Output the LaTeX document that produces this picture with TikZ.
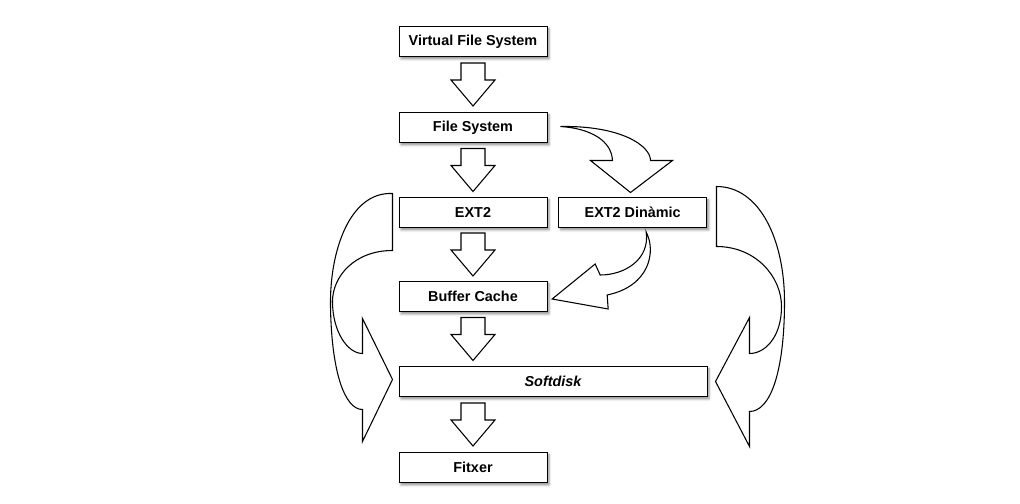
\documentclass[tikz,border=0pt]{standalone}
\usepackage{fontspec}
\setmainfont{Liberation Sans}
\usetikzlibrary{positioning,calc,shadows.blur}

\begin{document}
\begin{tikzpicture}[
    x=0.75pt, y=-0.75pt,
    box/.style={
        draw,
        line width=0.75pt,
        fill=white,
        minimum width=111pt,
        minimum height=22.5pt,
        inner sep=0pt,
        blur shadow={shadow xshift=1.5pt, shadow yshift=-1.8pt, shadow blur radius=1.8pt, shadow opacity=45},
        font=\fontsize{10.8}{12}\selectfont\bfseries
    },
    arrowbody/.style={draw, line width=0.8pt, fill=white, line join=miter},
    blockdown/.pic={
        \draw[arrowbody] (-12,-21.5) -- (-12,-4.5) -- (-22,-4.5) -- (0,21.5)
            -- (22,-4.5) -- (12,-4.5) -- (12,-21.5) -- cycle;
    }
]
\useasboundingbox (0,0) rectangle (1020,503);

\node[box] (vfs) at (473,41.5) {Virtual File System};
\node[box, below=41.25pt of vfs] (fs) {File System};
\node[box, below=40.5pt of fs] (ext2) {EXT2};
\node[box, right=8pt of ext2] (ext2d) {EXT2 Dinàmic};
\node[box, below=39.75pt of ext2] (buf) {Buffer Cache};
\node[box, minimum width=231pt, below=40.5pt of buf.south west, anchor=north west,
    font=\fontsize{10.8}{12}\selectfont\bfseries\itshape] (soft) {Softdisk};
\node[box, below=41.25pt of soft.south west, anchor=north west] (fit) {Fitxer};

% straight block arrows
\pic at ($(vfs.south)!.5!(fs.north)$) {blockdown};
\pic at ($(fs.south)!.5!(ext2.north)$) {blockdown};
\pic at ($(ext2.south)!.5!(buf.north)$) {blockdown};
\pic at ($(buf.south)!.5!(buf.south|-soft.north)$) {blockdown};
\pic at ($(fit.north)!.5!(fit.north|-soft.south)$) {blockdown};

% curved arrows
\draw[arrowbody, shift={(fs.east)}]
    (13,-1) .. controls (73,-2) and (103,18) .. (103,33) -- (125,33) -- (83,65)
    -- (43,33) -- (65,33) .. controls (64,13) and (43,1) .. (13,-1) -- cycle;
\draw[arrowbody, shift={(ext2d.south)}]
    (13.5,4) .. controls (23.5,23) and (17.5,58) .. (-25.5,67) -- (-24.5,81)
    -- (-80.5,71) -- (-37.5,36) -- (-32.5,47)
    .. controls (-7.5,47) and (17.5,31) .. (13.5,4) -- cycle;
\draw[arrowbody, shift={($(soft.west)+(-6,-2)$)}]
    (0,-186) .. controls (-43,-188) and (-63,-128) .. (-62,-73)
    .. controls (-61,-8) and (-48,30) .. (-30,30) -- (-30,62) -- (0,0)
    -- (-30,-61) -- (-30,-26) .. controls (-45,-26) and (-60,-48) .. (-60,-78)
    .. controls (-60,-103) and (-38,-129) .. (0,-129) -- cycle;
\draw[arrowbody, shift={($(soft.east)+(8,0)$)}]
    (1,-195) .. controls (45,-195) and (69,-140) .. (69,-80)
    .. controls (69,-10) and (55,30) .. (34,30) -- (34,65) -- (0,0)
    -- (34,-64) -- (34,-28) .. controls (50,-28) and (66,-45) .. (66,-75)
    .. controls (66,-105) and (40,-135) .. (1,-135) -- cycle;
\end{tikzpicture}
\end{document}
